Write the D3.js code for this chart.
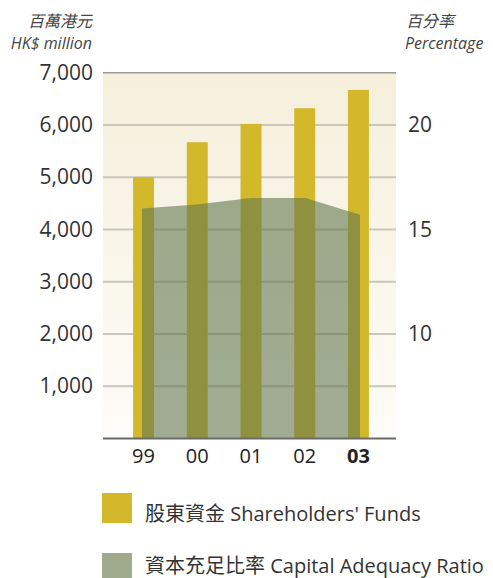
<!DOCTYPE html>
<html lang="zh-Hant">
  <head>
    <meta charset="UTF-8" />
    <title>shareholders-funds</title>
    <style>
      body { margin: 0; background: #fff; }
      text { font-family: "Open Sans", "Noto Sans CJK TC", sans-serif; }
    </style>
  </head>
  <body>
    <svg width="493" height="578" id="svg"></svg>
    <script src="https://cdnjs.cloudflare.com/ajax/libs/d3/7.8.5/d3.min.js"></script>
    <script>
      // data
      const years = ["99", "00", "01", "02", "03"];
      const funds = [5000, 5670, 6020, 6320, 6670]; // HK$ million
      const ratio = [16.0, 16.2, 16.5, 16.5, 15.7]; // %
      const leftTicks = [1000, 2000, 3000, 4000, 5000, 6000, 7000];
      const rightTicks = [10, 15, 20];
      const legendNames = ["股東資金 Shareholders' Funds", "資本充足比率 Capital Adequacy Ratio"];

      const svg = d3.select("#svg");
      const plotLeft = 103, plotRight = 396, plotTop = 72.7, plotBottom = 438.5;

      const x = d3.scaleBand().domain(years).range([103, 399]).paddingInner(0.61).paddingOuter(0.56);
      const xArea = d3.scalePoint().domain(years).range([142, 360]);
      const y = d3.scaleLinear().domain([0, 7000]).range([plotBottom, plotTop]);
      const y2 = d3.scaleLinear().domain([5, 22.5]).range([plotBottom, plotTop]);

      const barColor = "#d2b82a";
      const areaColor = "#63774f";

      // background gradient
      const grad = svg.append("defs").append("linearGradient")
        .attr("id", "bg").attr("x1", 0).attr("y1", 0).attr("x2", 0).attr("y2", 1);
      grad.append("stop").attr("offset", "0%").attr("stop-color", "#f5efdb");
      grad.append("stop").attr("offset", "100%").attr("stop-color", "#fdfcf8");

      svg.append("rect")
        .attr("x", plotLeft).attr("y", plotTop)
        .attr("width", plotRight - plotLeft).attr("height", plotBottom - plotTop)
        .attr("fill", "url(#bg)");

      // gridlines
      svg.append("g").selectAll("line")
        .data(leftTicks)
        .join("line")
        .attr("x1", plotLeft).attr("x2", plotRight)
        .attr("y1", d => y(d)).attr("y2", d => y(d))
        .attr("stroke", d => d === 7000 ? "#9a9a96" : "#c9c6ba")
        .attr("stroke-width", d => d === 7000 ? 1.5 : 2);

      // bars
      svg.append("g").selectAll("rect")
        .data(funds)
        .join("rect")
        .attr("x", (d, i) => x(years[i]))
        .attr("width", x.bandwidth())
        .attr("y", d => y(d))
        .attr("height", d => plotBottom - y(d))
        .attr("fill", barColor);

      // capital adequacy area
      const area = d3.area()
        .x((d, i) => xArea(years[i]))
        .y0(plotBottom)
        .y1(d => y2(d));
      svg.append("path")
        .datum(ratio)
        .attr("d", area)
        .attr("fill", areaColor)
        .attr("fill-opacity", 0.6);

      // bottom axis line
      svg.append("line")
        .attr("x1", plotLeft).attr("x2", plotRight)
        .attr("y1", plotBottom).attr("y2", plotBottom)
        .attr("stroke", "#6a6a6a").attr("stroke-width", 2);

      // left axis
      const yAxis = svg.append("g")
        .attr("transform", `translate(${plotLeft - 10},0)`)
        .call(d3.axisLeft(y).tickValues(leftTicks).tickFormat(d3.format(",")).tickSize(0).tickPadding(0));
      yAxis.select(".domain").remove();
      yAxis.selectAll("text")
        .attr("font-size", 21).attr("fill", "#333")
        .style("font-family", "'Open Sans', sans-serif");

      // right axis
      const yAxis2 = svg.append("g")
        .attr("transform", `translate(${plotRight + 12},0)`)
        .call(d3.axisRight(y2).tickValues(rightTicks).tickSize(0).tickPadding(0));
      yAxis2.select(".domain").remove();
      yAxis2.selectAll("text")
        .attr("font-size", 21).attr("fill", "#333")
        .style("font-family", "'Open Sans', sans-serif");

      // x labels
      svg.append("g").selectAll("text")
        .data(years)
        .join("text")
        .attr("x", d => x(d) + x.bandwidth() / 2)
        .attr("y", 463)
        .attr("text-anchor", "middle")
        .attr("font-size", 20)
        .attr("font-weight", d => d === "03" ? "bold" : "normal")
        .attr("fill", "#222")
        .text(d => d);

      // axis titles
      const titles = [
        { t: "百萬港元", x: 92, y: 27, a: "end" },
        { t: "HK$ million", x: 92, y: 49, a: "end" },
        { t: "百分率", x: 406, y: 27, a: "start" },
        { t: "Percentage", x: 405, y: 49, a: "start" },
      ];
      svg.append("g").selectAll("text")
        .data(titles)
        .join("text")
        .attr("x", d => d.x).attr("y", d => d.y)
        .attr("text-anchor", d => d.a)
        .attr("font-size", 16)
        .attr("font-style", "italic")
        .attr("fill", "#444")
        .text(d => d.t);

      // legend
      const swatchY = [493, 553];
      const labelY = [521, 573];
      const legend = svg.append("g").selectAll("g")
        .data(legendNames)
        .join("g");
      legend.append("rect")
        .attr("x", 102)
        .attr("y", (d, i) => swatchY[i])
        .attr("width", 30).attr("height", 30)
        .attr("fill", (d, i) => i === 0 ? barColor : "#a0aa8c");
      legend.append("text")
        .attr("x", 145)
        .attr("y", (d, i) => labelY[i])
        .attr("font-size", 20)
        .attr("fill", "#333")
        .text(d => d);
    </script>
  </body>
</html>
